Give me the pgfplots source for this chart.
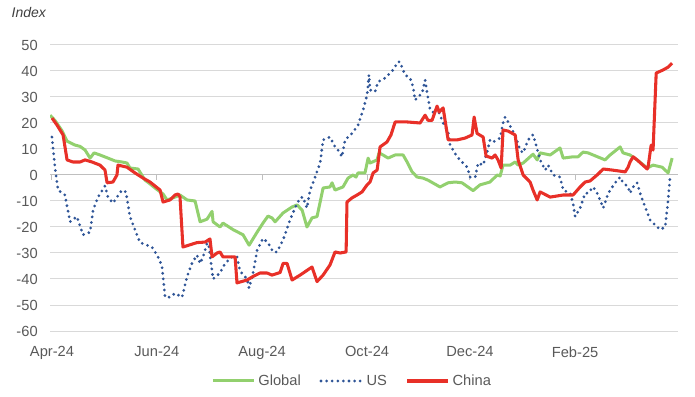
\documentclass[border=0pt]{standalone}
\usepackage{pgfplots}
\pgfplotsset{compat=1.18}
\usepackage{fontspec}
\setmainfont{Liberation Sans}
\definecolor{cglobal}{RGB}{146,208,110}
\definecolor{cus}{RGB}{47,85,151}
\definecolor{cchina}{RGB}{232,48,40}
\definecolor{cgrid}{RGB}{217,217,217}
\definecolor{caxis}{RGB}{191,191,191}
\definecolor{ctext}{RGB}{89,89,89}
\begin{document}
\begin{tikzpicture}
\path[use as bounding box] (-37.5pt,-48.75pt) rectangle (483.75pt,248.25pt);
\begin{axis}[
  at={(0,0)}, anchor=south west,
  scale only axis, width=471pt, height=214.5pt,
  xmin=1.15, xmax=363.7, ymin=-60, ymax=50,
  ytick={-60,-50,...,50},
  xtick={2.3,62.8,123.6,184.2,243.6,304.3},
  xticklabels={Apr-24,Jun-24,Aug-24,Oct-24,Dec-24,Feb-25},
  axis line style={draw=none},
  major tick length=0pt,
  ymajorgrids, grid style={cgrid, line width=0.75pt},
  tick label style={font=\fontsize{11}{13}\selectfont, text=ctext},
  /pgf/number format/assume math mode=true,
  yticklabel style={xshift=-5.7pt},
  xticklabel style={yshift=-8pt},
  legend style={at={(axis description cs:0.4817,-0.1748)}, anchor=center,
    draw=none, fill=none, font=\fontsize{11}{13}\selectfont, text=ctext,
    /tikz/every even column/.append style={column sep=12pt}},
  legend columns=3,
  legend image code/.code={\draw[#1] (0pt,0pt) -- (31pt,0pt);},
  line join=round,
]
\draw[caxis, line width=0.75pt] (axis cs:1.15,0) -- (axis cs:363.7,0);
\pgfplotsinvokeforeach{2.3,62.8,123.6,184.2,243.6,304.3}{
  \draw[caxis, line width=0.75pt] (axis cs:#1,0) -- ++(0pt,-3.75pt);
}
% Global
\addplot[cglobal, line width=2.25pt, mark=none] table {
x y
1.2 23
4 21
8.1 17
11 13
15.6 11.5
18.5 11
21.4 9.6
24.3 6.5
26.6 8.5
30 7.7
34.6 6.5
38.7 5.4
42.7 5
45.6 4.6
47.3 2.7
52 2.3
56 -2
57.7 -2.8
61.8 -5
66.4 -7.3
68.7 -9.6
72.2 -8.8
76.2 -7.7
80.3 -9.6
84.9 -10
87.8 -18
91.8 -17
94.7 -14
95.3 -18
99.3 -20
101 -18.5
106.8 -21
112.6 -23
116.1 -27
120.7 -22
124.1 -18.5
127 -15.8
129.3 -16.5
131.1 -18
135.7 -14.6
140.9 -12.3
143.8 -11.5
146.7 -13.5
149.5 -20
152.4 -16.5
155.3 -16
157.1 -10.4
158.8 -5
162.8 -4.6
164 -3
165.7 -5.8
170.3 -4.6
173.2 -1.2
176.1 0
177.8 -0.8
179 0.8
183 0.8
184.8 6.5
185.9 4.6
190 5.8
191.1 8.5
193.4 7.7
196.3 6.5
200.4 7.7
205 7.7
207.3 5
210.2 1.2
213.1 -0.8
216.5 -1.2
219.4 -2
226.3 -4.6
231 -3
235 -2.7
239 -3
245.4 -6
249.4 -3.8
255.2 -2.7
259.3 0
261 -0.4
262.7 3.8
266.8 3.8
269.7 5
271.4 3.8
274.3 4.6
280 8
282.4 5.8
284.1 8.5
289.9 7.7
295.6 10.4
297.4 6.5
303.1 7
306 7
308.9 8.8
311.8 8.5
314.7 7.7
321.6 5.8
324.5 7.7
330.3 10.8
332 8.5
336 7.7
340.1 5.8
345.9 2.7
349.3 3.8
354.5 3
358 0.8
360.3 6.5
};
\addlegendentry{Global}
% US
\addplot[cus, line width=2.3pt, line cap=round, dash pattern=on 0pt off 4.2pt, mark=none] table {
x y
2.3 14.6
4 3
5.8 -5.8
9.8 -7.7
12.7 -18
16.7 -16
20.2 -23
24.3 -22
26 -13.5
28.9 -8.5
32.9 -4.2
34.6 -8.5
37.5 -10.8
39.8 -8.5
42.7 -5.8
45 -6.5
47.3 -16
53.1 -26
60 -27.7
63.5 -31.5
65.8 -35
67.6 -47
70.4 -47
73.3 -45.5
77.4 -47
80.3 -39
83.1 -34
86 -30.8
87.8 -34
89.5 -31.5
92.4 -25
95.3 -40
99.3 -37.7
102.2 -34
106.2 -31.5
109.1 -31.5
110.9 -37
114.9 -40
116.1 -43.5
118.4 -37.7
120.7 -29
124.1 -24.4
127 -26
129.9 -29.6
132.2 -29.6
135.7 -25
139.7 -17.3
142.6 -12.7
145.5 -8.8
147.2 -8.5
149.5 -12.7
151.3 -5.8
153 -3
157.1 4.6
158.8 13.5
162.8 14.6
165.7 10.8
167.4 9.6
169.7 7
171.5 13.5
175.5 16
179 19.2
181.9 25
184.2 30.8
185.3 38.5
185.9 32.7
188.8 32
190.5 35.8
194.6 37.3
199.2 40.4
202.1 43.5
203.2 43.5
206.1 38.5
209 37.3
210.8 33.8
211.9 28.8
213.6 30
216 31.5
217.7 36.5
218.8 32
220.6 25
222.3 24.2
224.6 25.8
226.3 23
228.1 20
231 16.5
232.1 11.5
236.2 7
239 5
242 3
243.7 -0.8
246.6 -0.8
248.3 4.6
251.2 3.8
253.5 8.8
255.2 13.5
256.9 12.7
261 14.2
262.7 20
263.9 22.3
265.6 20.4
267.9 17.3
269.7 15.4
272.5 9.6
274.3 8.5
277.2 13.5
280 15.5
282.4 10
284.1 5.8
287 1.9
288.7 3.8
291.6 0
295.6 -0.8
297.4 -5.8
301.4 -7
303.1 -10.8
304.3 -16
307.2 -12.7
310.1 -7
311.8 -7
314.7 -4.6
317 -7
318.7 -9.6
320.5 -12.7
323.4 -7
327.4 -3
330.3 -0.8
332 -3
334.9 -4.6
336 -7
337.8 -4.6
340.1 -3
341.8 -7
344.7 -12.3
347.6 -17.3
350.5 -19.2
353.4 -21
356.3 -20
358 -9.6
359.2 0
};
\addlegendentry{US}
% China
\addplot[cchina, line width=2.3pt, mark=none] table {
x y
2.3 21.9
5.2 19.2
8.7 15.4
11 5.8
14.4 5
18.5 5
21.4 5.8
25.4 5
30 3.8
32.9 1.9
34.1 -3
37.5 -2.7
39.8 0
40.4 3.8
45.6 3
50.2 0.8
54.9 -1.2
58.9 -2.7
64.7 -5.8
66.4 -10.4
70.4 -9.6
73.3 -7.7
75.1 -7.3
76.2 -8.5
77.9 -27.7
86 -26
90.7 -25.8
93.5 -24.6
94.7 -31.5
97.6 -30
99.3 -29.6
101 -31.5
108 -31.5
109.1 -41.5
114.9 -40.4
118.4 -39
122.4 -37.7
126.5 -37.7
129.3 -38.5
134 -37.5
135.7 -34
138 -34
140.9 -40.4
145.5 -38.5
152.4 -35.4
155.3 -41
158.8 -38.5
162.8 -34.6
165.7 -29.6
168.6 -30
172.1 -29.6
172.6 -10.4
175.5 -8.8
178.4 -7.7
181.3 -6.5
184.2 -3.8
185.9 -2.7
187.7 0.8
190 1.9
191.7 10.8
195.7 12.7
198 15.4
200.4 20.4
207.3 20.4
214.8 20
217.7 23
219.4 21
221.7 21
224.6 26.5
225.8 24.2
228.1 25.8
231 13.5
236.2 13.5
240.8 14.2
244.8 15.4
246 22.3
247.7 16
251.2 14.6
252.9 7.3
256.4 6.5
258.1 7.7
259.8 5.8
261.6 2.7
262.7 17.3
265.6 16.9
269.7 15.4
271.4 5.8
274.3 0
278.3 -2.7
280 -5.8
282.4 -9.6
284.1 -6.5
289.9 -8.5
297.4 -7.7
303.1 -7.7
307.2 -4.6
310.1 -2.7
312.9 -2.3
317 0
320.5 2.3
325.7 1.9
333.2 1.2
334.9 3
336 5
337.8 7
340.1 5.8
345.9 2.3
346.4 3
348.2 11.5
349.3 9.6
351.1 39.2
355.1 40.4
358 41.5
360.3 43
};
\addlegendentry{China}
\end{axis}
\node[anchor=west, font=\fontsize{10.5}{12}\selectfont\itshape, text={rgb,255:red,64;green,64;blue,64}] at (-32.25pt,238.5pt) {Index};
\end{tikzpicture}
\end{document}
